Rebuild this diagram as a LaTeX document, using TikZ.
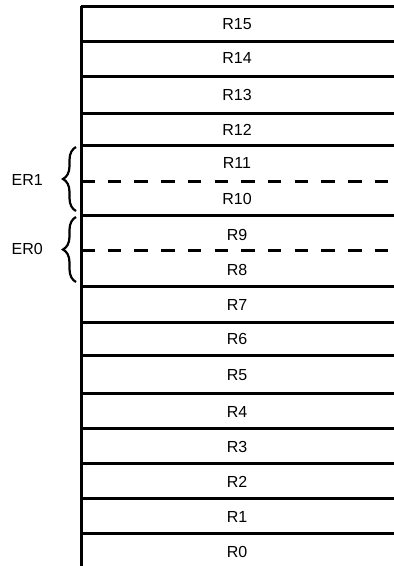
\documentclass[tikz,border=0pt]{standalone}
\usepackage{fontspec}
\setmainfont{Liberation Sans}
\usetikzlibrary{decorations.pathreplacing}
\begin{document}
\begin{tikzpicture}[x=1pt,y=-1pt,
  regline/.style={line width=3pt},
  dashline/.style={line width=3pt,dash pattern=on 13.5pt off 13.2pt},
  regname/.style={inner sep=0pt,font=\fontsize{16}{18}\selectfont},
  bracestyle/.style={line width=2.2pt,decorate,decoration={brace,amplitude=13pt,aspect=0.5}}]
\useasboundingbox (0,0) rectangle (394,566);
% frame
\coordinate (topleft) at (81,6);
\coordinate (botleft) at (81,566);
\draw[regline] (topleft) -- (botleft);
\foreach \y [count=\i] in {6,41,76,113,145,215,286,322,355,393,428,463,498,533}
  {\coordinate (l\i) at (81,\y); \coordinate (r\i) at (394,\y);
   \draw[regline] (l\i) -- (r\i);}
\foreach \y [count=\i] in {181,250}
  {\coordinate (dl\i) at (81,\y); \coordinate (dr\i) at (394,\y);
   \draw[dashline] (dl\i) -- (dr\i);}
% register names
\foreach \n/\y in {15/23.7,14/58.3,13/95,12/129.5,11/163,10/199,9/235,8/270,7/305,6/338.5,5/375.5,4/412,3/447,2/482,1/517,0/552}
  \node[regname] (R\n) at (237,\y) {R\n};
% braces and labels
\coordinate (b1lo) at (76,211); \coordinate (b1hi) at (76,147);
\coordinate (b0lo) at (76,282); \coordinate (b0hi) at (76,217);
\draw[bracestyle] (b1lo) -- (b1hi);
\draw[bracestyle] (b0lo) -- (b0hi);
\node[regname,anchor=east] (ER1) at (43,180) {ER1};
\node[regname,anchor=east] (ER0) at (43,249) {ER0};
\end{tikzpicture}
\end{document}
